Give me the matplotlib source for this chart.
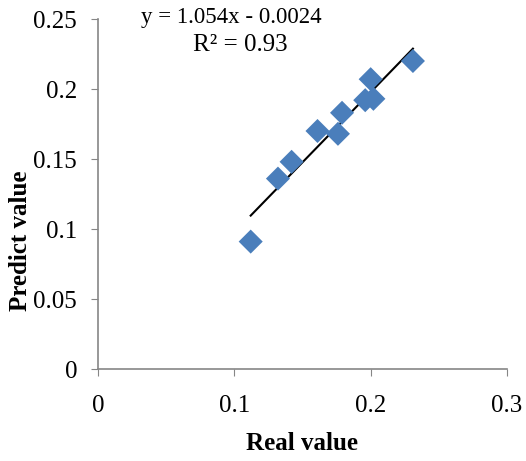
import matplotlib.pyplot as plt
import numpy as np

plt.rcParams["font.family"] = ["Liberation Serif", "DejaVu Serif"]

real_value = [0.112, 0.132, 0.142, 0.161, 0.176, 0.179, 0.196, 0.200, 0.202, 0.231]
predict_value = [0.091, 0.136, 0.148, 0.170, 0.168, 0.183, 0.192, 0.207, 0.193, 0.220]

x_ticks = [0, 0.1, 0.2, 0.3]
x_tick_labels = ["0", "0.1", "0.2", "0.3"]
y_ticks = [0, 0.05, 0.1, 0.15, 0.2, 0.25]
y_tick_labels = ["0", "0.05", "0.1", "0.15", "0.2", "0.25"]

equation = "y = 1.054x - 0.0024"
r_squared = "R² = 0.93"

fig = plt.figure(figsize=(5.26, 4.61), dpi=100)
ax = fig.add_axes([98 / 526, 1 - 369 / 461, 409 / 526, 350 / 461])

ax.scatter(real_value, predict_value, marker="D", s=150, color="#4A7EBB",
           edgecolors="none", zorder=3)

# linear trendline over the data range
slope, intercept = np.polyfit(real_value, predict_value, 1)
xs = np.array([min(real_value), max(real_value)])
ax.plot(xs, slope * xs + intercept, color="black", lw=1.5, zorder=2)

ax.set_xlim(0, 0.3)
ax.set_ylim(0, 0.25)
ax.set_xticks(x_ticks)
ax.set_xticklabels(x_tick_labels)
ax.set_yticks(y_ticks)
ax.set_yticklabels(y_tick_labels)
ax.tick_params(direction="out", length=5, color="#868686", labelsize=18, pad=14)
ax.tick_params(axis="y", pad=10)

for side in ["top", "right"]:
    ax.spines[side].set_visible(False)
for side in ["left", "bottom"]:
    ax.spines[side].set_color("#868686")
    ax.spines[side].set_linewidth(1.2)

fig.text(231 / 526, 1 - 18 / 461, equation, ha="center", va="center", fontsize=16.5)
fig.text(240 / 526, 1 - 45 / 461, r_squared, ha="center", va="center", fontsize=18)

fig.text(21 / 526, 1 - 241 / 461, "Predict value", rotation=90, ha="center",
         va="center", fontsize=18, fontweight="bold")
fig.text(302 / 526, 1 - 443 / 461, "Real value", ha="center", va="center",
         fontsize=18, fontweight="bold")

fig.savefig("out.png", dpi=100)
